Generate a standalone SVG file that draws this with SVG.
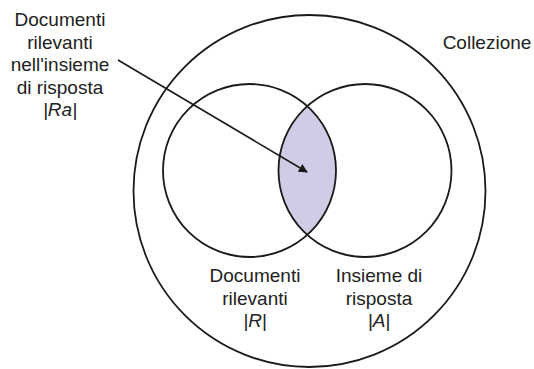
<svg xmlns="http://www.w3.org/2000/svg" width="534" height="369" viewBox="0 0 534 369">
  <style>
    .ring { fill: none; stroke: #1a1a1a; stroke-width: 1.8; }
    .lbl { font-family: "Liberation Sans", Arial, sans-serif; font-size: 19px; fill: #222; text-anchor: middle; }
    .it { font-style: italic; }
  </style>
  <defs>
    <marker id="tip" viewBox="0 0 10 10" refX="9" refY="5" markerWidth="9" markerHeight="9" markerUnits="userSpaceOnUse" orient="auto">
      <path d="M0,0 L10,5 L0,10 z" fill="#1a1a1a"/>
    </marker>
    <clipPath id="clipR">
      <circle cx="249.5" cy="170.5" r="86.5"/>
    </clipPath>
  </defs>

  <g id="collezione">
    <circle class="ring" cx="309.5" cy="191" r="176"/>
    <text class="lbl" x="487" y="49">Collezione</text>
  </g>

  <g id="intersezione">
    <circle cx="365" cy="170.5" r="86.5" fill="#cfcde6" clip-path="url(#clipR)"/>
  </g>

  <g id="rilevanti">
    <circle class="ring" cx="249.5" cy="170.5" r="86.5"/>
    <text class="lbl" x="255" y="282">Documenti</text>
    <text class="lbl" x="255" y="304.5">rilevanti</text>
    <text class="lbl it" x="255" y="327">|R|</text>
  </g>

  <g id="risposta">
    <circle class="ring" cx="365" cy="170.5" r="86.5"/>
    <text class="lbl" x="379" y="282">Insieme di</text>
    <text class="lbl" x="379" y="304.5">risposta</text>
    <text class="lbl it" x="379" y="327">|A|</text>
  </g>

  <g id="nota">
    <text class="lbl" x="60" y="26">Documenti</text>
    <text class="lbl" x="60" y="48.5">rilevanti</text>
    <text class="lbl" x="60" y="71">nell'insieme</text>
    <text class="lbl" x="60" y="93.5">di risposta</text>
    <text class="lbl it" x="60" y="116">|Ra|</text>
  </g>

  <g id="connettori">
    <line x1="118" y1="60" x2="307" y2="172" stroke="#1a1a1a" stroke-width="1.6" marker-end="url(#tip)"/>
  </g>
</svg>
